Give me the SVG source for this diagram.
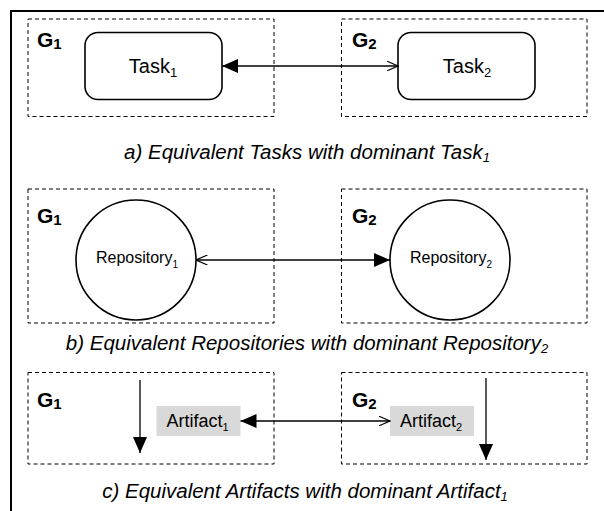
<svg xmlns="http://www.w3.org/2000/svg" width="604" height="511" viewBox="0 0 604 511">
<style>
.frame{fill:none;stroke:#000;stroke-width:2}
.grp{fill:none;stroke:#000;stroke-width:1;stroke-dasharray:4,3}
.node{fill:#fff;stroke:#000;stroke-width:1.6}
.art{fill:#d9d9d9;stroke:none}
.edge{fill:none;stroke:#000;stroke-width:1.3}
.glabel{font-family:"Liberation Sans",Arial,sans-serif;font-weight:bold;font-size:21px;fill:#000}
.t{font-family:"Liberation Sans",Arial,sans-serif;fill:#000}
.cap{font-family:"Liberation Sans",Arial,sans-serif;font-style:italic;font-size:20.5px;fill:#000;text-anchor:middle}
</style>
<defs>
<marker id="fill" viewBox="0 0 16 14" refX="16" refY="7" markerWidth="16" markerHeight="14" markerUnits="userSpaceOnUse" orient="auto-start-reverse"><path d="M0,0 L16,7 L0,14 Z" fill="#000"/></marker>
<marker id="open" viewBox="0 0 12 10" refX="11.5" refY="5" markerWidth="12" markerHeight="10" markerUnits="userSpaceOnUse" orient="auto-start-reverse"><path d="M0,0 L11.5,5 L0,10" fill="none" stroke="#000" stroke-width="1.2"/></marker>
</defs>
<rect class="frame" x="11" y="11" width="640" height="540"/>

<g id="groups">
<g id="a-G1"><rect class="grp" x="28" y="19" width="246" height="97.5"/><text class="glabel" x="37" y="47">G<tspan font-size="15" dy="2">1</tspan></text></g>
<g id="a-G2"><rect class="grp" x="341.5" y="19" width="245.5" height="97.5"/><text class="glabel" x="352" y="47">G<tspan font-size="15" dy="2">2</tspan></text></g>
<g id="b-G1"><rect class="grp" x="28" y="189" width="246" height="134"/><text class="glabel" x="37" y="223">G<tspan font-size="15" dy="2">1</tspan></text></g>
<g id="b-G2"><rect class="grp" x="341.5" y="189" width="245.5" height="134"/><text class="glabel" x="352" y="223">G<tspan font-size="15" dy="2">2</tspan></text></g>
<g id="c-G1"><rect class="grp" x="28" y="372.5" width="246" height="91.5"/><text class="glabel" x="37" y="407">G<tspan font-size="15" dy="2">1</tspan></text></g>
<g id="c-G2"><rect class="grp" x="341.5" y="372.5" width="245.5" height="91.5"/><text class="glabel" x="352" y="407">G<tspan font-size="15" dy="2">2</tspan></text></g>
</g>

<g id="task1"><rect class="node" x="85" y="32.5" width="137" height="67" rx="13"/><text class="t" x="153" y="73" font-size="20" text-anchor="middle">Task<tspan font-size="13" dy="4">1</tspan></text></g>
<g id="task2"><rect class="node" x="398" y="32.5" width="137" height="67" rx="13"/><text class="t" x="467" y="73" font-size="20" text-anchor="middle">Task<tspan font-size="13" dy="4">2</tspan></text></g>

<g id="repository1"><circle class="node" cx="136" cy="260" r="60"/><text class="t" x="137" y="263" font-size="16" text-anchor="middle">Repository<tspan font-size="10" dy="5">1</tspan></text></g>
<g id="repository2"><circle class="node" cx="450" cy="260" r="60"/><text class="t" x="451" y="263" font-size="16" text-anchor="middle">Repository<tspan font-size="10" dy="5">2</tspan></text></g>

<g id="artifact1"><rect class="art" x="156.5" y="406" width="84" height="30"/><text class="t" x="166.5" y="427" font-size="18">Artifact<tspan font-size="11" dy="4">1</tspan></text></g>
<g id="artifact2"><rect class="art" x="390" y="406" width="84" height="30"/><text class="t" x="400" y="427" font-size="18">Artifact<tspan font-size="11" dy="4">2</tspan></text></g>

<g id="connectors">
<line class="edge" x1="222" y1="66" x2="398" y2="66" marker-start="url(#fill)" marker-end="url(#open)"/>
<line class="edge" x1="196" y1="260" x2="390" y2="260" marker-start="url(#open)" marker-end="url(#fill)"/>
<line class="edge" x1="240.5" y1="421" x2="390" y2="421" marker-start="url(#fill)" marker-end="url(#open)"/>
<line class="edge" x1="140" y1="380" x2="140" y2="453" marker-end="url(#fill)"/>
<line class="edge" x1="486" y1="378" x2="486" y2="460" marker-end="url(#fill)"/>
</g>

<g id="captions">
<text class="cap" x="307" y="159">a) Equivalent Tasks with dominant Task<tspan font-size="13" dy="3">1</tspan></text>
<text class="cap" x="307" y="350">b) Equivalent Repositories with dominant Repository<tspan font-size="13" dy="3">2</tspan></text>
<text class="cap" x="305" y="498">c) Equivalent Artifacts with dominant Artifact<tspan font-size="13" dy="3">1</tspan></text>
</g>
</svg>
